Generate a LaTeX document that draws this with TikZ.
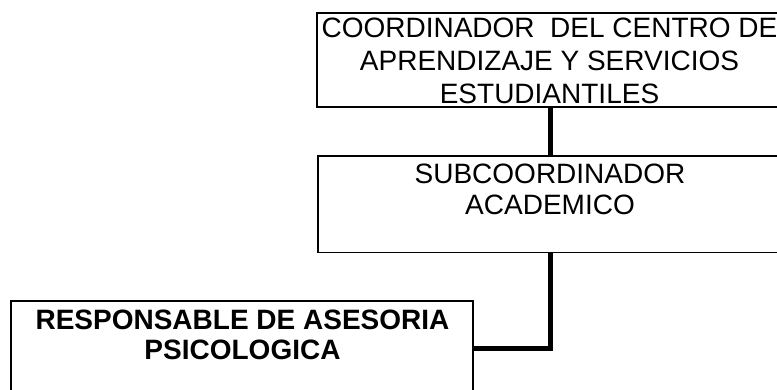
\documentclass[tikz,border=0pt]{standalone}
\usepackage{fontspec}
\setmainfont{Liberation Sans}
\begin{document}
\begin{tikzpicture}[x=1pt,y=-1pt,
  orgbox/.style={draw=black,line width=1.3pt,inner sep=0pt,fill=white},
  orgtext/.style={inner sep=0pt,align=center,anchor=north},
  link/.style={draw=black,line width=5pt,line join=miter}]
\useasboundingbox (0,0) rectangle (777,389);
\clip (0,0) rectangle (777,389);
\node[orgbox,minimum width=468pt,minimum height=94pt] (top) at (551,60) {};
\node[orgbox,minimum width=467pt,minimum height=96.5pt] (mid) at (551.5,204.25) {};
\node[orgbox,minimum width=462pt,minimum height=119pt] (bot) at (242,360.5) {};
\node[orgtext,font=\fontsize{28}{32.8}\selectfont] (toptext) at (549.5,18) {COORDINADOR\ \ DEL CENTRO DE\\APRENDIZAJE Y SERVICIOS\\ESTUDIANTILES};
\node[orgtext,font=\fontsize{28}{31}\selectfont] (midtext) at (550,164) {SUBCOORDINADOR\\ACADEMICO};
\node[orgtext,font=\bfseries\fontsize{28}{30}\selectfont] (bottext) at (242.5,310) {RESPONSABLE DE ASESORIA\\PSICOLOGICA};
\coordinate (elbow) at (550,348);
\draw[link] (top.south -| elbow) -- (mid.north -| elbow);
\draw[link] (mid.south -| elbow) -- (elbow) -- (elbow -| bot.east);
\end{tikzpicture}
\end{document}
